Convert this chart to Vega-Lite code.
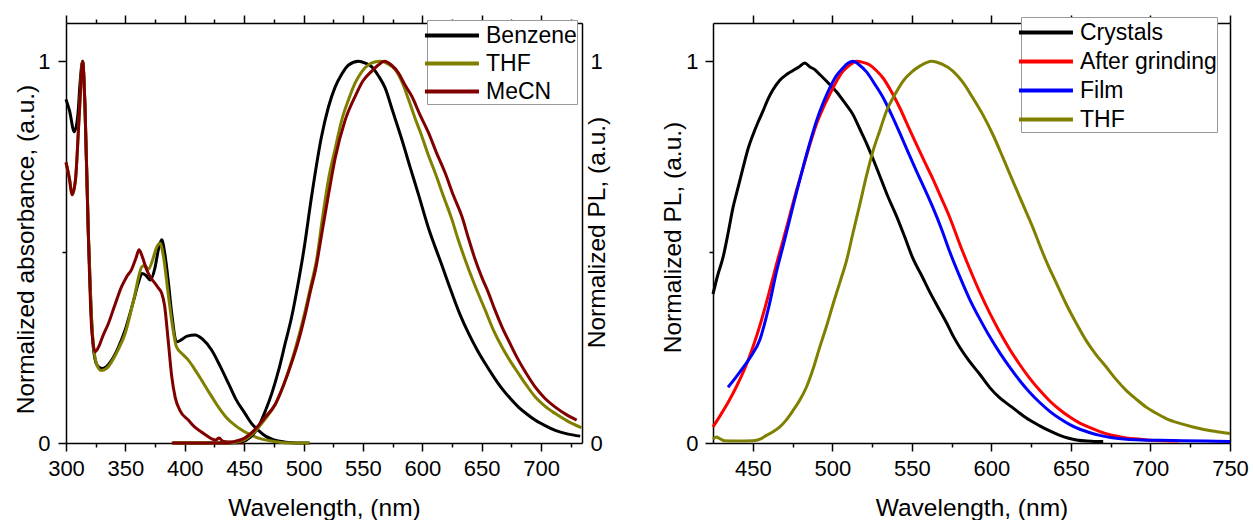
{
"$schema": "https://vega.github.io/schema/vega-lite/v6.json",
"background": "white",
"padding": {"left": 12, "top": 14, "right": 0, "bottom": 0},
"spacing": 50,
"config": {
  "font": "Liberation Sans",
  "view": {"stroke": null},
  "axis": {"grid": false, "domainColor": "#000", "domainWidth": 1.5, "tickColor": "#000", "tickWidth": 1.5,
           "labelFont": "Liberation Sans", "labelFontSize": 22, "labelColor": "#000",
           "titleFont": "Liberation Sans", "titleFontSize": 24.5, "titleFontWeight": "normal", "titleColor": "#000",
           "labelFlush": false, "labelOverlap": false},
  "legend": {"labelFont": "Liberation Sans", "labelFontSize": 23, "labelColor": "#000"}
},
"resolve": {"scale": {"color": "independent"}, "legend": {"color": "independent"}},
"hconcat": [
{
  "width": 516, "height": 420,
  "data": {"values": [
{"s":"Benzene","k":"A","w":300,"v":0.9},{"s":"Benzene","k":"A","w":303,"v":0.87},{"s":"Benzene","k":"A","w":307,"v":0.815},{"s":"Benzene","k":"A","w":310,"v":0.86},{"s":"Benzene","k":"A","w":312,"v":0.95},{"s":"Benzene","k":"A","w":314,"v":1.0},{"s":"Benzene","k":"A","w":316,"v":0.88},{"s":"Benzene","k":"A","w":318.8,"v":0.55},{"s":"Benzene","k":"A","w":321,"v":0.36},{"s":"Benzene","k":"A","w":323,"v":0.25},{"s":"Benzene","k":"A","w":326,"v":0.205},{"s":"Benzene","k":"A","w":330,"v":0.195},{"s":"Benzene","k":"A","w":334,"v":0.2},{"s":"Benzene","k":"A","w":338.5,"v":0.217},{"s":"Benzene","k":"A","w":344,"v":0.25},{"s":"Benzene","k":"A","w":349.8,"v":0.296},{"s":"Benzene","k":"A","w":357,"v":0.374},{"s":"Benzene","k":"A","w":361,"v":0.42},{"s":"Benzene","k":"A","w":364,"v":0.444},{"s":"Benzene","k":"A","w":367,"v":0.44},{"s":"Benzene","k":"A","w":371,"v":0.427},{"s":"Benzene","k":"A","w":375,"v":0.46},{"s":"Benzene","k":"A","w":378,"v":0.51},{"s":"Benzene","k":"A","w":380.6,"v":0.532},{"s":"Benzene","k":"A","w":383,"v":0.5},{"s":"Benzene","k":"A","w":386,"v":0.427},{"s":"Benzene","k":"A","w":389,"v":0.34},{"s":"Benzene","k":"A","w":393,"v":0.265},{"s":"Benzene","k":"A","w":397,"v":0.27},{"s":"Benzene","k":"A","w":402,"v":0.28},{"s":"Benzene","k":"A","w":408.7,"v":0.283},{"s":"Benzene","k":"A","w":415,"v":0.272},{"s":"Benzene","k":"A","w":422.7,"v":0.243},{"s":"Benzene","k":"A","w":430,"v":0.2},{"s":"Benzene","k":"A","w":436.8,"v":0.156},{"s":"Benzene","k":"A","w":443,"v":0.115},{"s":"Benzene","k":"A","w":450.8,"v":0.077},{"s":"Benzene","k":"A","w":456,"v":0.052},{"s":"Benzene","k":"A","w":462,"v":0.033},{"s":"Benzene","k":"A","w":468,"v":0.018},{"s":"Benzene","k":"A","w":475,"v":0.008},{"s":"Benzene","k":"A","w":485,"v":0.002},{"s":"Benzene","k":"A","w":495,"v":0.0},{"s":"Benzene","k":"A","w":505,"v":0.0},
{"s":"THF","k":"A","w":300,"v":0.735},{"s":"THF","k":"A","w":303,"v":0.69},{"s":"THF","k":"A","w":305.4,"v":0.65},{"s":"THF","k":"A","w":308,"v":0.69},{"s":"THF","k":"A","w":311,"v":0.85},{"s":"THF","k":"A","w":314,"v":1.0},{"s":"THF","k":"A","w":316,"v":0.88},{"s":"THF","k":"A","w":318.8,"v":0.55},{"s":"THF","k":"A","w":321,"v":0.36},{"s":"THF","k":"A","w":323,"v":0.26},{"s":"THF","k":"A","w":326,"v":0.205},{"s":"THF","k":"A","w":329.5,"v":0.19},{"s":"THF","k":"A","w":334,"v":0.195},{"s":"THF","k":"A","w":338.5,"v":0.213},{"s":"THF","k":"A","w":344,"v":0.245},{"s":"THF","k":"A","w":349.8,"v":0.287},{"s":"THF","k":"A","w":357,"v":0.375},{"s":"THF","k":"A","w":364,"v":0.462},{"s":"THF","k":"A","w":366.5,"v":0.465},{"s":"THF","k":"A","w":369.4,"v":0.455},{"s":"THF","k":"A","w":373,"v":0.48},{"s":"THF","k":"A","w":376,"v":0.51},{"s":"THF","k":"A","w":379.2,"v":0.523},{"s":"THF","k":"A","w":382,"v":0.49},{"s":"THF","k":"A","w":386,"v":0.392},{"s":"THF","k":"A","w":390,"v":0.3},{"s":"THF","k":"A","w":393,"v":0.252},{"s":"THF","k":"A","w":398,"v":0.233},{"s":"THF","k":"A","w":403,"v":0.217},{"s":"THF","k":"A","w":408,"v":0.195},{"s":"THF","k":"A","w":414.3,"v":0.164},{"s":"THF","k":"A","w":421,"v":0.13},{"s":"THF","k":"A","w":428.4,"v":0.094},{"s":"THF","k":"A","w":435,"v":0.067},{"s":"THF","k":"A","w":442.4,"v":0.046},{"s":"THF","k":"A","w":450,"v":0.03},{"s":"THF","k":"A","w":456.4,"v":0.02},{"s":"THF","k":"A","w":465,"v":0.01},{"s":"THF","k":"A","w":475,"v":0.004},{"s":"THF","k":"A","w":490,"v":0.0},{"s":"THF","k":"A","w":505,"v":0.0},
{"s":"MeCN","k":"A","w":300,"v":0.735},{"s":"MeCN","k":"A","w":303,"v":0.69},{"s":"MeCN","k":"A","w":305,"v":0.65},{"s":"MeCN","k":"A","w":308,"v":0.69},{"s":"MeCN","k":"A","w":311,"v":0.85},{"s":"MeCN","k":"A","w":314,"v":1.0},{"s":"MeCN","k":"A","w":316,"v":0.88},{"s":"MeCN","k":"A","w":318.5,"v":0.58},{"s":"MeCN","k":"A","w":321.6,"v":0.3},{"s":"MeCN","k":"A","w":324.5,"v":0.239},{"s":"MeCN","k":"A","w":328,"v":0.255},{"s":"MeCN","k":"A","w":331,"v":0.28},{"s":"MeCN","k":"A","w":335.7,"v":0.313},{"s":"MeCN","k":"A","w":341,"v":0.36},{"s":"MeCN","k":"A","w":346.9,"v":0.41},{"s":"MeCN","k":"A","w":351,"v":0.435},{"s":"MeCN","k":"A","w":355.3,"v":0.455},{"s":"MeCN","k":"A","w":359,"v":0.485},{"s":"MeCN","k":"A","w":361.5,"v":0.506},{"s":"MeCN","k":"A","w":364,"v":0.49},{"s":"MeCN","k":"A","w":368,"v":0.453},{"s":"MeCN","k":"A","w":372,"v":0.43},{"s":"MeCN","k":"A","w":375,"v":0.418},{"s":"MeCN","k":"A","w":378,"v":0.405},{"s":"MeCN","k":"A","w":380.6,"v":0.392},{"s":"MeCN","k":"A","w":383,"v":0.36},{"s":"MeCN","k":"A","w":386,"v":0.27},{"s":"MeCN","k":"A","w":389,"v":0.175},{"s":"MeCN","k":"A","w":391.9,"v":0.12},{"s":"MeCN","k":"A","w":396,"v":0.085},{"s":"MeCN","k":"A","w":403,"v":0.06},{"s":"MeCN","k":"A","w":408,"v":0.043},{"s":"MeCN","k":"A","w":414,"v":0.029},{"s":"MeCN","k":"A","w":418,"v":0.02},{"s":"MeCN","k":"A","w":422.7,"v":0.011},{"s":"MeCN","k":"A","w":426,"v":0.008},{"s":"MeCN","k":"A","w":429,"v":0.013},{"s":"MeCN","k":"A","w":432,"v":0.005},{"s":"MeCN","k":"A","w":440,"v":0.002},{"s":"MeCN","k":"A","w":450,"v":0.0},
{"s":"Benzene","k":"P","w":390,"v":0},{"s":"Benzene","k":"P","w":440,"v":0},{"s":"Benzene","k":"P","w":448,"v":0.003},{"s":"Benzene","k":"P","w":455,"v":0.015},{"s":"Benzene","k":"P","w":462,"v":0.042},{"s":"Benzene","k":"P","w":468,"v":0.085},{"s":"Benzene","k":"P","w":473.3,"v":0.13},{"s":"Benzene","k":"P","w":479,"v":0.19},{"s":"Benzene","k":"P","w":484.5,"v":0.26},{"s":"Benzene","k":"P","w":490,"v":0.33},{"s":"Benzene","k":"P","w":495,"v":0.41},{"s":"Benzene","k":"P","w":500,"v":0.5},{"s":"Benzene","k":"P","w":507,"v":0.65},{"s":"Benzene","k":"P","w":515,"v":0.8},{"s":"Benzene","k":"P","w":521,"v":0.88},{"s":"Benzene","k":"P","w":526.6,"v":0.932},{"s":"Benzene","k":"P","w":532,"v":0.965},{"s":"Benzene","k":"P","w":537.9,"v":0.99},{"s":"Benzene","k":"P","w":546.3,"v":1.0},{"s":"Benzene","k":"P","w":552,"v":0.995},{"s":"Benzene","k":"P","w":557.5,"v":0.985},{"s":"Benzene","k":"P","w":563,"v":0.962},{"s":"Benzene","k":"P","w":568.7,"v":0.93},{"s":"Benzene","k":"P","w":575,"v":0.87},{"s":"Benzene","k":"P","w":582.8,"v":0.795},{"s":"Benzene","k":"P","w":590,"v":0.72},{"s":"Benzene","k":"P","w":596.9,"v":0.65},{"s":"Benzene","k":"P","w":605,"v":0.565},{"s":"Benzene","k":"P","w":616,"v":0.47},{"s":"Benzene","k":"P","w":625,"v":0.392},{"s":"Benzene","k":"P","w":632,"v":0.335},{"s":"Benzene","k":"P","w":639,"v":0.287},{"s":"Benzene","k":"P","w":646,"v":0.245},{"s":"Benzene","k":"P","w":653,"v":0.208},{"s":"Benzene","k":"P","w":660,"v":0.174},{"s":"Benzene","k":"P","w":667,"v":0.143},{"s":"Benzene","k":"P","w":674,"v":0.117},{"s":"Benzene","k":"P","w":681,"v":0.094},{"s":"Benzene","k":"P","w":688,"v":0.076},{"s":"Benzene","k":"P","w":695,"v":0.06},{"s":"Benzene","k":"P","w":703,"v":0.046},{"s":"Benzene","k":"P","w":712,"v":0.033},{"s":"Benzene","k":"P","w":722,"v":0.024},{"s":"Benzene","k":"P","w":733,"v":0.018},
{"s":"THF","k":"P","w":390,"v":0},{"s":"THF","k":"P","w":435,"v":0},{"s":"THF","k":"P","w":443,"v":0.002},{"s":"THF","k":"P","w":450,"v":0.008},{"s":"THF","k":"P","w":459,"v":0.03},{"s":"THF","k":"P","w":467,"v":0.06},{"s":"THF","k":"P","w":476,"v":0.1},{"s":"THF","k":"P","w":483,"v":0.15},{"s":"THF","k":"P","w":490,"v":0.215},{"s":"THF","k":"P","w":496,"v":0.28},{"s":"THF","k":"P","w":501.3,"v":0.345},{"s":"THF","k":"P","w":506,"v":0.41},{"s":"THF","k":"P","w":511,"v":0.48},{"s":"THF","k":"P","w":516,"v":0.59},{"s":"THF","k":"P","w":521,"v":0.69},{"s":"THF","k":"P","w":526.6,"v":0.77},{"s":"THF","k":"P","w":532.3,"v":0.847},{"s":"THF","k":"P","w":538,"v":0.9},{"s":"THF","k":"P","w":543.5,"v":0.943},{"s":"THF","k":"P","w":549,"v":0.972},{"s":"THF","k":"P","w":554.8,"v":0.991},{"s":"THF","k":"P","w":560,"v":0.998},{"s":"THF","k":"P","w":565,"v":1.0},{"s":"THF","k":"P","w":571,"v":0.993},{"s":"THF","k":"P","w":577.2,"v":0.978},{"s":"THF","k":"P","w":583,"v":0.945},{"s":"THF","k":"P","w":588.4,"v":0.9},{"s":"THF","k":"P","w":594,"v":0.85},{"s":"THF","k":"P","w":599.7,"v":0.803},{"s":"THF","k":"P","w":605,"v":0.755},{"s":"THF","k":"P","w":610.9,"v":0.707},{"s":"THF","k":"P","w":618,"v":0.645},{"s":"THF","k":"P","w":625,"v":0.585},{"s":"THF","k":"P","w":630,"v":0.535},{"s":"THF","k":"P","w":636.1,"v":0.48},{"s":"THF","k":"P","w":644,"v":0.415},{"s":"THF","k":"P","w":653,"v":0.348},{"s":"THF","k":"P","w":660,"v":0.295},{"s":"THF","k":"P","w":667,"v":0.252},{"s":"THF","k":"P","w":674,"v":0.215},{"s":"THF","k":"P","w":681,"v":0.182},{"s":"THF","k":"P","w":688,"v":0.15},{"s":"THF","k":"P","w":695,"v":0.121},{"s":"THF","k":"P","w":703,"v":0.097},{"s":"THF","k":"P","w":712,"v":0.077},{"s":"THF","k":"P","w":722,"v":0.058},{"s":"THF","k":"P","w":734,"v":0.04},
{"s":"MeCN","k":"P","w":389,"v":0},{"s":"MeCN","k":"P","w":435,"v":0},{"s":"MeCN","k":"P","w":442,"v":0.004},{"s":"MeCN","k":"P","w":450,"v":0.012},{"s":"MeCN","k":"P","w":459,"v":0.035},{"s":"MeCN","k":"P","w":467,"v":0.065},{"s":"MeCN","k":"P","w":476,"v":0.1},{"s":"MeCN","k":"P","w":483,"v":0.15},{"s":"MeCN","k":"P","w":490,"v":0.21},{"s":"MeCN","k":"P","w":496,"v":0.27},{"s":"MeCN","k":"P","w":501.3,"v":0.335},{"s":"MeCN","k":"P","w":506,"v":0.4},{"s":"MeCN","k":"P","w":510.5,"v":0.46},{"s":"MeCN","k":"P","w":516,"v":0.56},{"s":"MeCN","k":"P","w":521,"v":0.65},{"s":"MeCN","k":"P","w":526.6,"v":0.745},{"s":"MeCN","k":"P","w":535,"v":0.845},{"s":"MeCN","k":"P","w":543.5,"v":0.908},{"s":"MeCN","k":"P","w":550,"v":0.948},{"s":"MeCN","k":"P","w":557.5,"v":0.974},{"s":"MeCN","k":"P","w":563,"v":0.99},{"s":"MeCN","k":"P","w":568,"v":1.0},{"s":"MeCN","k":"P","w":574,"v":0.99},{"s":"MeCN","k":"P","w":580,"v":0.969},{"s":"MeCN","k":"P","w":585,"v":0.94},{"s":"MeCN","k":"P","w":591.2,"v":0.908},{"s":"MeCN","k":"P","w":598,"v":0.86},{"s":"MeCN","k":"P","w":605.3,"v":0.812},{"s":"MeCN","k":"P","w":612,"v":0.76},{"s":"MeCN","k":"P","w":619.3,"v":0.707},{"s":"MeCN","k":"P","w":626,"v":0.65},{"s":"MeCN","k":"P","w":633.4,"v":0.593},{"s":"MeCN","k":"P","w":639,"v":0.535},{"s":"MeCN","k":"P","w":644.6,"v":0.48},{"s":"MeCN","k":"P","w":650,"v":0.435},{"s":"MeCN","k":"P","w":655.9,"v":0.392},{"s":"MeCN","k":"P","w":661,"v":0.35},{"s":"MeCN","k":"P","w":667,"v":0.305},{"s":"MeCN","k":"P","w":674,"v":0.26},{"s":"MeCN","k":"P","w":681,"v":0.217},{"s":"MeCN","k":"P","w":688,"v":0.18},{"s":"MeCN","k":"P","w":695,"v":0.147},{"s":"MeCN","k":"P","w":703,"v":0.118},{"s":"MeCN","k":"P","w":712,"v":0.094},{"s":"MeCN","k":"P","w":721,"v":0.075},{"s":"MeCN","k":"P","w":730,"v":0.06}
  ]},
  "layer": [
    {
      "transform": [{"filter": "datum.k === 'A'"}],
      "mark": {"type": "line", "strokeWidth": 3, "interpolate": "monotone"},
      "encoding": {
        "x": {"field": "w", "type": "quantitative", "scale": {"domain": [300, 734.5], "nice": false, "zero": false},
              "axis": {"orient": "bottom", "values": [300,325,350,375,400,425,450,475,500,525,550,575,600,625,650,675,700,725],
                       "labelExpr": "datum.value % 50 === 0 ? format(datum.value, 'd') : ''",
                       "tickSize": {"condition": {"test": "datum.value % 50 === 0", "value": 8}, "value": 4},
                       "labelPadding": 7, "title": "Wavelength, (nm)", "titleY": 72, "titleBaseline": "alphabetic"}},
        "y": {"field": "v", "type": "quantitative", "scale": {"domain": [0, 1.1], "nice": false},
              "axis": {"orient": "left", "values": [0, 0.5, 1],
                       "labelExpr": "datum.value === 1 ? '1' : datum.value === 0 ? '0' : ''",
                       "tickSize": {"condition": {"test": "datum.value === 0.5", "value": 4}, "value": 8},
                       "labelPadding": 8, "title": "Normalized absorbance, (a.u.)", "titleAngle": 270,
                       "titleX": -33, "titleY": 226, "titleBaseline": "alphabetic", "titleAlign": "center"}},
        "color": {"field": "s", "type": "nominal",
                  "scale": {"domain": ["Benzene", "THF", "MeCN"], "range": ["#000000", "#808000", "#800000"]},
                  "legend": {"orient": "none", "legendX": 361, "legendY": -3, "title": null, "symbolType": "M-1.3,0L2.7,0",
                             "symbolSize": 729, "symbolStrokeWidth": 4, "labelFontSize": 23, "strokeColor": "#999999",
                             "fillColor": "white", "padding": 0, "rowPadding": 0, "labelOffset": 28}}
      }
    },
    {
      "transform": [{"filter": "datum.k === 'P'"}],
      "mark": {"type": "line", "strokeWidth": 3, "interpolate": "monotone"},
      "encoding": {
        "x": {"field": "w", "type": "quantitative",
              "axis": {"orient": "top", "values": [300,325,350,375,400,425,450,475,500,525,550,575,600,625,650,675,700,725],
                       "labels": false, "title": null,
                       "tickSize": {"condition": {"test": "datum.value % 50 === 0", "value": 8}, "value": 4}}},
        "y": {"field": "v", "type": "quantitative",
              "axis": {"orient": "right", "values": [0, 1], "ticks": false,
                       "labelExpr": "datum.value === 1 ? '1' : '0'",
                       "labelPadding": 8, "title": "Normalized PL, (a.u.)", "titleAngle": 270,
                       "titleX": 22, "titleY": 209, "titleBaseline": "alphabetic", "titleAlign": "center"}},
        "color": {"field": "s", "type": "nominal",
                  "scale": {"domain": ["Benzene", "THF", "MeCN"], "range": ["#000000", "#808000", "#800000"]},
                  "legend": {"orient": "none", "legendX": 361, "legendY": -3, "title": null, "symbolType": "M-1.3,0L2.7,0",
                             "symbolSize": 729, "symbolStrokeWidth": 4, "labelFontSize": 23, "strokeColor": "#999999",
                             "fillColor": "white", "padding": 0, "rowPadding": 0, "labelOffset": 28}}
      }
    }
  ],
  "resolve": {"axis": {"x": "independent", "y": "independent"}}
},
{
  "width": 517, "height": 420,
  "data": {"values": [
{"s":"Crystals","w":425,"v":0.39},{"s":"Crystals","w":428,"v":0.44},{"s":"Crystals","w":431.3,"v":0.486},{"s":"Crystals","w":434.5,"v":0.55},{"s":"Crystals","w":437.6,"v":0.617},{"s":"Crystals","w":440.8,"v":0.67},{"s":"Crystals","w":443.9,"v":0.721},{"s":"Crystals","w":447,"v":0.77},{"s":"Crystals","w":450.2,"v":0.808},{"s":"Crystals","w":453.3,"v":0.84},{"s":"Crystals","w":456.4,"v":0.869},{"s":"Crystals","w":459.5,"v":0.9},{"s":"Crystals","w":462.7,"v":0.925},{"s":"Crystals","w":467,"v":0.95},{"s":"Crystals","w":471.2,"v":0.965},{"s":"Crystals","w":475,"v":0.975},{"s":"Crystals","w":479,"v":0.985},{"s":"Crystals","w":482.7,"v":0.995},{"s":"Crystals","w":486,"v":0.985},{"s":"Crystals","w":489,"v":0.978},{"s":"Crystals","w":492.1,"v":0.965},{"s":"Crystals","w":497,"v":0.945},{"s":"Crystals","w":502.6,"v":0.92},{"s":"Crystals","w":508,"v":0.89},{"s":"Crystals","w":513,"v":0.86},{"s":"Crystals","w":517,"v":0.825},{"s":"Crystals","w":521.5,"v":0.785},{"s":"Crystals","w":525.5,"v":0.745},{"s":"Crystals","w":529.8,"v":0.7},{"s":"Crystals","w":535,"v":0.645},{"s":"Crystals","w":540.3,"v":0.595},{"s":"Crystals","w":545.5,"v":0.54},{"s":"Crystals","w":550.8,"v":0.482},{"s":"Crystals","w":556,"v":0.44},{"s":"Crystals","w":561.3,"v":0.395},{"s":"Crystals","w":566.5,"v":0.355},{"s":"Crystals","w":571.8,"v":0.315},{"s":"Crystals","w":576,"v":0.28},{"s":"Crystals","w":580.2,"v":0.25},{"s":"Crystals","w":586,"v":0.215},{"s":"Crystals","w":592.7,"v":0.18},{"s":"Crystals","w":599,"v":0.145},{"s":"Crystals","w":605.3,"v":0.118},{"s":"Crystals","w":611.6,"v":0.098},{"s":"Crystals","w":617.9,"v":0.078},{"s":"Crystals","w":624,"v":0.06},{"s":"Crystals","w":630.4,"v":0.045},{"s":"Crystals","w":637,"v":0.031},{"s":"Crystals","w":643,"v":0.02},{"s":"Crystals","w":648,"v":0.013},{"s":"Crystals","w":653.5,"v":0.008},{"s":"Crystals","w":660,"v":0.005},{"s":"Crystals","w":665,"v":0.004},{"s":"Crystals","w":670.3,"v":0.004},
{"s":"After grinding","w":425,"v":0.042},{"s":"After grinding","w":430,"v":0.075},{"s":"After grinding","w":435,"v":0.11},{"s":"After grinding","w":440,"v":0.15},{"s":"After grinding","w":445,"v":0.195},{"s":"After grinding","w":450,"v":0.25},{"s":"After grinding","w":455,"v":0.315},{"s":"After grinding","w":460,"v":0.39},{"s":"After grinding","w":465,"v":0.47},{"s":"After grinding","w":469,"v":0.53},{"s":"After grinding","w":473.2,"v":0.595},{"s":"After grinding","w":477.4,"v":0.66},{"s":"After grinding","w":481.6,"v":0.72},{"s":"After grinding","w":485.8,"v":0.78},{"s":"After grinding","w":490,"v":0.835},{"s":"After grinding","w":494.2,"v":0.877},{"s":"After grinding","w":498.4,"v":0.913},{"s":"After grinding","w":502.6,"v":0.947},{"s":"After grinding","w":506.8,"v":0.974},{"s":"After grinding","w":511,"v":0.99},{"s":"After grinding","w":515.2,"v":1.0},{"s":"After grinding","w":519.4,"v":0.997},{"s":"After grinding","w":523.6,"v":0.99},{"s":"After grinding","w":527.8,"v":0.975},{"s":"After grinding","w":531.9,"v":0.956},{"s":"After grinding","w":537.2,"v":0.92},{"s":"After grinding","w":542.4,"v":0.878},{"s":"After grinding","w":547.6,"v":0.83},{"s":"After grinding","w":552.9,"v":0.782},{"s":"After grinding","w":558.2,"v":0.735},{"s":"After grinding","w":563.4,"v":0.69},{"s":"After grinding","w":568.7,"v":0.64},{"s":"After grinding","w":573.9,"v":0.59},{"s":"After grinding","w":580.2,"v":0.52},{"s":"After grinding","w":586.5,"v":0.455},{"s":"After grinding","w":592.7,"v":0.395},{"s":"After grinding","w":599,"v":0.34},{"s":"After grinding","w":605.3,"v":0.29},{"s":"After grinding","w":611.6,"v":0.245},{"s":"After grinding","w":617.9,"v":0.205},{"s":"After grinding","w":624,"v":0.17},{"s":"After grinding","w":630.4,"v":0.138},{"s":"After grinding","w":636.7,"v":0.11},{"s":"After grinding","w":643,"v":0.087},{"s":"After grinding","w":649.3,"v":0.068},{"s":"After grinding","w":655.6,"v":0.052},{"s":"After grinding","w":662,"v":0.04},{"s":"After grinding","w":668.2,"v":0.03},{"s":"After grinding","w":675,"v":0.021},{"s":"After grinding","w":681,"v":0.016},{"s":"After grinding","w":690,"v":0.011},{"s":"After grinding","w":698,"v":0.008},{"s":"After grinding","w":708,"v":0.006},{"s":"After grinding","w":718,"v":0.005},
{"s":"Film","w":434.4,"v":0.146},{"s":"Film","w":439,"v":0.17},{"s":"Film","w":444,"v":0.198},{"s":"Film","w":449,"v":0.228},{"s":"Film","w":454.4,"v":0.27},{"s":"Film","w":460,"v":0.355},{"s":"Film","w":465,"v":0.45},{"s":"Film","w":469,"v":0.515},{"s":"Film","w":473.2,"v":0.585},{"s":"Film","w":477.4,"v":0.655},{"s":"Film","w":481.6,"v":0.722},{"s":"Film","w":485.8,"v":0.785},{"s":"Film","w":490,"v":0.843},{"s":"Film","w":494.2,"v":0.89},{"s":"Film","w":498.4,"v":0.93},{"s":"Film","w":502.6,"v":0.962},{"s":"Film","w":506.8,"v":0.983},{"s":"Film","w":510,"v":0.995},{"s":"Film","w":513,"v":1.0},{"s":"Film","w":517,"v":0.99},{"s":"Film","w":521.5,"v":0.972},{"s":"Film","w":526.7,"v":0.94},{"s":"Film","w":531.9,"v":0.905},{"s":"Film","w":537.2,"v":0.86},{"s":"Film","w":542.4,"v":0.812},{"s":"Film","w":547.6,"v":0.762},{"s":"Film","w":552.9,"v":0.712},{"s":"Film","w":558.2,"v":0.664},{"s":"Film","w":563.4,"v":0.615},{"s":"Film","w":568.7,"v":0.56},{"s":"Film","w":573.9,"v":0.5},{"s":"Film","w":580.2,"v":0.435},{"s":"Film","w":586.5,"v":0.375},{"s":"Film","w":592.7,"v":0.325},{"s":"Film","w":599,"v":0.278},{"s":"Film","w":605.3,"v":0.236},{"s":"Film","w":611.6,"v":0.198},{"s":"Film","w":617.9,"v":0.163},{"s":"Film","w":624,"v":0.133},{"s":"Film","w":630.4,"v":0.106},{"s":"Film","w":636.7,"v":0.083},{"s":"Film","w":643,"v":0.064},{"s":"Film","w":649.3,"v":0.048},{"s":"Film","w":655.6,"v":0.036},{"s":"Film","w":662,"v":0.027},{"s":"Film","w":668.2,"v":0.02},{"s":"Film","w":676,"v":0.014},{"s":"Film","w":685,"v":0.01},{"s":"Film","w":695,"v":0.008},{"s":"Film","w":706,"v":0.007},{"s":"Film","w":720,"v":0.006},{"s":"Film","w":735,"v":0.005},{"s":"Film","w":750,"v":0.004},
{"s":"THF","w":425,"v":0.01},{"s":"THF","w":427,"v":0.016},{"s":"THF","w":429,"v":0.012},{"s":"THF","w":432,"v":0.006},{"s":"THF","w":440,"v":0.005},{"s":"THF","w":450,"v":0.006},{"s":"THF","w":455,"v":0.011},{"s":"THF","w":458.6,"v":0.02},{"s":"THF","w":463,"v":0.03},{"s":"THF","w":467,"v":0.042},{"s":"THF","w":471,"v":0.06},{"s":"THF","w":475.3,"v":0.085},{"s":"THF","w":479.5,"v":0.112},{"s":"THF","w":483.7,"v":0.146},{"s":"THF","w":488,"v":0.195},{"s":"THF","w":492.1,"v":0.251},{"s":"THF","w":496.3,"v":0.305},{"s":"THF","w":500.5,"v":0.364},{"s":"THF","w":504.7,"v":0.42},{"s":"THF","w":508.9,"v":0.477},{"s":"THF","w":513,"v":0.55},{"s":"THF","w":517.3,"v":0.625},{"s":"THF","w":521.5,"v":0.7},{"s":"THF","w":525.6,"v":0.765},{"s":"THF","w":530,"v":0.82},{"s":"THF","w":534,"v":0.869},{"s":"THF","w":539,"v":0.91},{"s":"THF","w":544.5,"v":0.948},{"s":"THF","w":550,"v":0.972},{"s":"THF","w":555,"v":0.987},{"s":"THF","w":562.4,"v":1.0},{"s":"THF","w":569,"v":0.992},{"s":"THF","w":575.8,"v":0.974},{"s":"THF","w":582,"v":0.945},{"s":"THF","w":588.3,"v":0.904},{"s":"THF","w":594.6,"v":0.86},{"s":"THF","w":600.9,"v":0.808},{"s":"THF","w":607.2,"v":0.748},{"s":"THF","w":613.5,"v":0.686},{"s":"THF","w":619.8,"v":0.625},{"s":"THF","w":626.1,"v":0.564},{"s":"THF","w":630.2,"v":0.52},{"s":"THF","w":634.4,"v":0.477},{"s":"THF","w":640.7,"v":0.42},{"s":"THF","w":647,"v":0.364},{"s":"THF","w":653.3,"v":0.314},{"s":"THF","w":659.6,"v":0.268},{"s":"THF","w":666,"v":0.23},{"s":"THF","w":672.2,"v":0.199},{"s":"THF","w":678.5,"v":0.166},{"s":"THF","w":684.7,"v":0.138},{"s":"THF","w":691,"v":0.115},{"s":"THF","w":697.3,"v":0.094},{"s":"THF","w":703.6,"v":0.078},{"s":"THF","w":709.9,"v":0.064},{"s":"THF","w":718,"v":0.052},{"s":"THF","w":726.7,"v":0.042},{"s":"THF","w":738,"v":0.032},{"s":"THF","w":750,"v":0.025}
  ]},
  "layer": [
    {
      "transform": [{"filter": "datum.s === 'Crystals' || datum.s === 'After grinding'"}],
      "mark": {"type": "line", "strokeWidth": 3, "interpolate": "monotone"},
      "encoding": {
        "x": {"field": "w", "type": "quantitative", "scale": {"domain": [425, 750], "nice": false, "zero": false},
              "axis": {"orient": "bottom", "values": [450,475,500,525,550,575,600,625,650,675,700,725,750],
                       "labelExpr": "datum.value % 50 === 0 ? format(datum.value, 'd') : ''",
                       "tickSize": {"condition": {"test": "datum.value % 50 === 0", "value": 8}, "value": 4},
                       "labelPadding": 7, "title": "Wavelength, (nm)", "titleY": 72, "titleBaseline": "alphabetic"}},
        "y": {"field": "v", "type": "quantitative", "scale": {"domain": [0, 1.1], "nice": false},
              "axis": {"orient": "left", "values": [0, 0.5, 1],
                       "labelExpr": "datum.value === 1 ? '1' : datum.value === 0 ? '0' : ''",
                       "tickSize": {"condition": {"test": "datum.value === 0.5", "value": 4}, "value": 8},
                       "labelPadding": 7, "title": "Normalized PL, (a.u.)", "titleAngle": 270,
                       "titleX": -33, "titleY": 214, "titleBaseline": "alphabetic", "titleAlign": "center"}},
        "color": {"field": "s", "type": "nominal",
                  "scale": {"domain": ["Crystals", "After grinding", "Film", "THF"], "range": ["#000000", "#ff0000", "#0000ff", "#808000"]},
                  "legend": {"orient": "none", "legendX": 308, "legendY": -6, "title": null, "symbolType": "M-1.3,0L2.7,0",
                             "symbolSize": 729, "symbolStrokeWidth": 4, "labelFontSize": 23, "strokeColor": "#999999",
                             "fillColor": "white", "padding": 0, "rowPadding": 1, "labelOffset": 28}}
      }
    },
    {
      "transform": [{"filter": "datum.s === 'Film' || datum.s === 'THF'"}],
      "mark": {"type": "line", "strokeWidth": 3, "interpolate": "monotone"},
      "encoding": {
        "x": {"field": "w", "type": "quantitative",
              "axis": {"orient": "top", "values": [450,475,500,525,550,575,600,625,650,675,700,725,750],
                       "labels": false, "title": null,
                       "tickSize": {"condition": {"test": "datum.value % 50 === 0", "value": 8}, "value": 4}}},
        "y": {"field": "v", "type": "quantitative",
              "axis": {"orient": "right", "ticks": false, "labels": false, "title": null}},
        "color": {"field": "s", "type": "nominal",
                  "scale": {"domain": ["Crystals", "After grinding", "Film", "THF"], "range": ["#000000", "#ff0000", "#0000ff", "#808000"]},
                  "legend": {"orient": "none", "legendX": 308, "legendY": -6, "title": null, "symbolType": "M-1.3,0L2.7,0",
                             "symbolSize": 729, "symbolStrokeWidth": 4, "labelFontSize": 23, "strokeColor": "#999999",
                             "fillColor": "white", "padding": 0, "rowPadding": 1, "labelOffset": 28}}
      }
    }
  ],
  "resolve": {"axis": {"x": "independent", "y": "independent"}}
}
]
}
